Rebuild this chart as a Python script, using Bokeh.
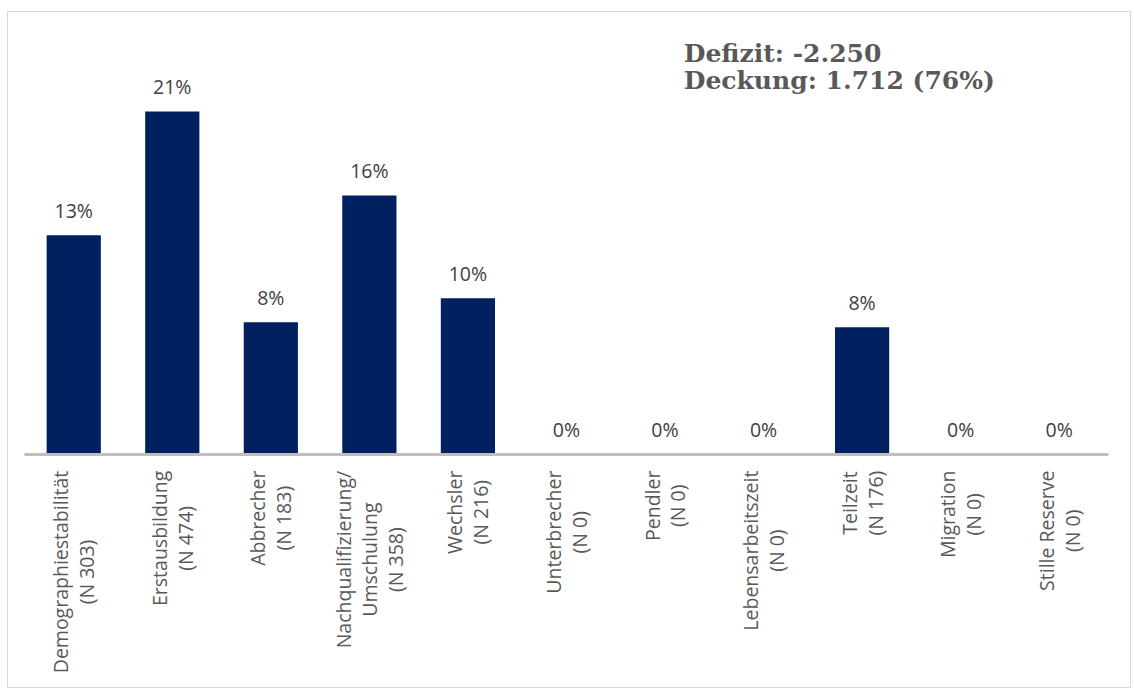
from math import pi
from bokeh.plotting import figure
from bokeh.models import ColumnDataSource, Range1d, Label
from bokeh.embed import file_html
from bokeh.resources import INLINE
from bokeh.core.properties import value

categories = ["Demographiestabilität", "Erstausbildung", "Abbrecher",
              "Nachqualifizierung/\nUmschulung", "Wechsler", "Unterbrecher",
              "Pendler", "Lebensarbeitszeit", "Teilzeit", "Migration", "Stille Reserve"]
counts = [303, 474, 183, 358, 216, 0, 0, 0, 176, 0, 0]
shares = [13.47, 21.07, 8.13, 15.91, 9.60, 0, 0, 0, 7.82, 0, 0]
deficit = "-2.250"
coverage = "1.712"
coverage_pct = 76

# approximate Open Sans advance widths (em) to center the rotated label blocks
_W = {" ": .260, "(": .295, ")": .295, "/": .367, "A": .633, "D": .735, "E": .556,
      "L": .519, "M": .905, "N": .765, "P": .604, "R": .619, "S": .550, "T": .554,
      "U": .744, "W": .928, "a": .556, "b": .613, "c": .476, "d": .613, "e": .561,
      "f": .339, "g": .548, "h": .614, "i": .253, "l": .253, "m": .930, "n": .614,
      "o": .604, "p": .613, "q": .613, "r": .408, "s": .477, "t": .353, "u": .614,
      "v": .501, "z": .477, "ä": .556}
FS = 19.5


def text_width(s):
    return sum(_W.get(ch, .572) for ch in s) * FS


xs = list(range(len(categories)))
cat_text = [f"{c}\n(N {n})" for c, n in zip(categories, counts)]
gap = 16
offsets = [gap + max(text_width(line) for line in t.split("\n")) / 2 for t in cat_text]

src = ColumnDataSource(dict(
    x=xs,
    top=shares,
    zero=[0] * len(xs),
    pct=[f"{int(round(s))}%" for s in shares],
    cat=cat_text,
    off=offsets,
))

px_per_unit_y = 16.28
p = figure(width=1124, height=677, output_backend="svg", toolbar_location=None,
           x_range=Range1d(-0.662, 10.744), y_range=Range1d(-14.43, 27.15),
           x_axis_location=None, y_axis_location=None,
           min_border_top=0, min_border_left=0, min_border_right=0, min_border_bottom=0)
p.xgrid.visible = False
p.ygrid.visible = False
p.outline_line_color = None
p.background_fill_color = "white"
p.border_fill_color = "white"
p.styles = {"border": "1px solid #d9d9d9", "margin-left": "7px", "margin-top": "11px"}

p.vbar(x="x", top="top", bottom=0, width=0.55, source=src,
       fill_color="#002060", line_color=None)

p.segment(x0=[-0.5], x1=[len(categories) - 0.5], y0=[0], y1=[0],
          line_color="#bfbfbf", line_width=3)

p.text(x="x", y="top", text="pct", source=src, text_align="center",
       text_baseline="middle", y_offset=-25, text_font=value("Open Sans"),
       text_font_size=f"{FS}px", text_color="#404040")

p.text(x="x", y="zero", text="cat", source=src, angle=pi / 2,
       text_align="center", text_baseline="middle", y_offset="off",
       text_font=value("Open Sans"), text_font_size=f"{FS}px",
       text_color="#595959", text_line_height=0.96)

ann = Label(x=6.19, y=25.55, text=f"Defizit: {deficit}\nDeckung: {coverage} ({coverage_pct}%)",
            text_font="DejaVu Serif", text_font_style="bold", text_font_size="25px",
            text_color="#595959", text_baseline="top", text_align="left",
            text_line_height=0.95)
p.add_layout(ann)

open("out.html", "w").write(file_html(p, INLINE))
